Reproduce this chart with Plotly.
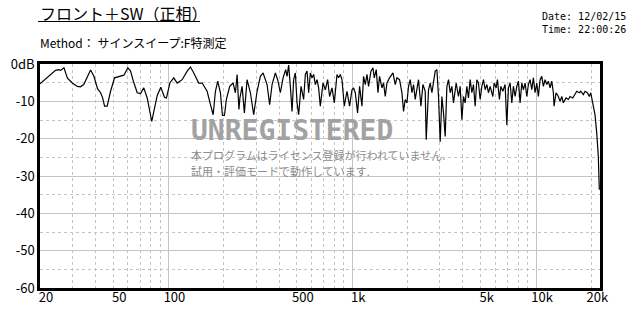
import math
import plotly.graph_objects as go

# ---------------- data ----------------
freq_hz = [
    20.0, 22.8, 24.3, 25.3, 25.9, 27.0, 28.2, 30.0, 31.9, 33.2, 34.6, 37.7, 39.3, 41.1, 42.7,
    43.8, 44.9, 46.4, 48.4, 50.9, 54.8, 57.2, 60.1, 62.2, 64.5, 67.6, 70.4, 73.4, 76.6, 81.1,
    86.8, 90.8, 95.1, 97.5, 101.9, 106.9, 111.5, 118.7, 126.4, 131.7, 137.3, 146.1, 152.5,
    162.3, 169.2, 175.0, 180.1, 185.4, 191.7, 196.6, 201.6, 206.6, 215.4, 224.7, 231.3,
    236.3, 241.7, 244.7, 251.5, 258.8, 267.7, 279.1, 290.8, 303.5, 316.2, 327.1, 343.9,
    355.2, 366.1, 381.5, 392.7, 406.2, 420.2, 434.0, 441.7, 450.6, 460.3, 470.2, 479.8,
    490.1, 500.7, 510.8, 526.3, 543.7, 555.5, 567.4, 578.9, 591.3, 604.1, 616.3, 629.5,
    643.1, 656.0, 670.1, 693.2, 713.5, 734.3, 752.8, 775.8, 798.5, 825.8, 842.5, 860.7,
    879.0, 904.7, 935.8, 966.7, 996.3, 1016.5, 1038.3, 1068.6, 1095.7, 1128.9, 1151.8,
    1176.7, 1201.9, 1226.2, 1263.5, 1295.6, 1317.0, 1350.3, 1379.5, 1407.4, 1450.2, 1479.6,
    1511.3, 1543.9, 1594.9, 1664.3, 1712.9, 1749.8, 1807.7, 1862.7, 1900.4, 1941.1, 1983.1,
    2023.2, 2066.6, 2111.3, 2153.9, 2200.0, 2247.1, 2292.6, 2362.8, 2422.6, 2493.4, 2525.0,
    2598.7, 2654.5, 2711.7, 2766.2, 2825.8, 2886.4, 2944.8, 3008.4, 3072.8, 3135.0, 3202.2,
    3271.4, 3337.6, 3409.2, 3482.2, 3552.7, 3675.0, 3782.3, 3863.7, 3946.5, 4026.4, 4112.7,
    4201.6, 4286.6, 4378.4, 4472.2, 4562.7, 4661.3, 4761.1, 4857.5, 4962.6, 5068.9, 5171.5,
    5282.2, 5396.5, 5505.7, 5623.4, 5817.0, 5911.6, 6061.9, 6161.8, 6317.4, 6430.4, 6592.3,
    6785.0, 6931.7, 7071.8, 7223.4, 7378.1, 7527.4, 7690.0, 7854.6, 8013.5, 8185.1, 8362.4,
    8531.2, 8714.2, 8902.1, 9082.3, 9277.0, 9475.6, 9667.2, 9875.5, 10088, 10292, 10513,
    10739, 10957, 11192, 11433, 11664, 11915, 12170, 12416, 12525, 12843, 13218, 13502,
    13792, 14071, 14555, 14980, 15303, 15830, 16293, 16643, 17192, 17497, 18077, 18465,
    19004, 19486, 19831, 20334, 20927, 21378, 21645, 21808, 22082,
]
level_db = [
    -5.3, -2.8, -1.7, -1.5, -1.7, -1.0, -3.8, -5.1, -6.0, -6.1, -5.5, -1.6, -3.3, -6.6, -7.7,
    -9.0, -11.3, -11.3, -7.3, -3.7, -3.3, -3.0, -1.0, -1.9, -4.7, -7.7, -7.9, -6.4, -9.1, -15.4,
    -8.5, -6.2, -8.9, -9.1, -5.0, -3.7, -5.1, -4.2, -1.9, -0.8, -2.4, -5.1, -5.1,
    -7.3, -10.9, -13.6, -7.3, -4.6, -7.7, -13.8, -13.8, -9.5, -6.0, -5.1, -7.7,
    -2.8, -12.2, -9.1, -6.0, -13.1, -4.2, -7.7, -13.6, -7.3, -3.3, -2.4, -5.5,
    -10.9, -5.5, -2.4, -4.2, -7.7, -3.7, -1.5, -3.3, -0.3, -6.0, -12.7, -4.2,
    -2.4, -10.4, -13.6, -6.0, -9.5, -2.8, -1.9, -7.7, -2.4, -3.7, -2.8, -5.5,
    -4.2, -6.4, -11.3, -5.1, -6.9, -4.2, -8.7, -6.4, -10.4, -2.8, -3.7, -2.8,
    -4.2, -11.3, -7.3, -11.3, -6.9, -6.4, -7.7, -13.1, -6.0, -11.3, -3.3,
    -5.5, -2.8, -6.0, -1.9, -1.0, -3.7, -1.5, -7.7, -3.3, -6.4, -5.1,
    -8.7, -5.1, -3.7, -2.4, -5.5, -3.7, -4.2, -7.7, -12.7, -9.5, -10.4,
    -6.0, -4.2, -7.7, -5.5, -9.5, -6.0, -4.2, -11.3, -5.5, -7.3, -20.3,
    -6.9, -5.1, -7.7, -4.2, -1.9, -1.5, -8.7, -20.8, -8.7, -13.1, -19.4,
    -6.0, -4.2, -7.7, -6.0, -10.4, -5.1, -8.7, -6.0, -14.9, -8.7, -10.4,
    -6.0, -9.1, -4.2, -7.7, -5.5, -11.3, -4.2, -5.1, -9.5, -6.0, -4.2,
    -6.9, -5.5, -7.7, -6.0, -8.7, -5.1, -6.4, -4.2, -9.5, -6.0, -7.3,
    -5.5, -16.3, -6.4, -5.1, -10.4, -6.0, -8.7, -6.0, -4.6, -10.4, -5.1,
    -6.9, -5.1, -8.7, -5.5, -4.2, -6.9, -3.7, -7.7, -5.1, -8.7, -4.2,
    -3.3, -6.0, -4.2, -5.5, -4.6, -6.4, -4.6, -7.7, -11.3, -7.7, -8.7, -10.0,
    -8.7, -10.4, -9.1, -9.5, -8.7, -9.1, -8.2, -7.3, -7.7, -7.3, -8.2, -7.3,
    -7.7, -8.7, -7.7, -10.4, -13.6, -18.5, -22.1, -24.8, -33.7,
]

y_tick_vals = [-60, -50, -40, -30, -20, -10, 0]
y_tick_text = ["-60", "-50", "-40", "-30", "-20", "-10", "0dB"]
y_minor_vals = [-55, -45, -35, -25, -15, -5]
x_label_vals = [20, 50, 100, 500, 1000, 5000, 10000, 20000]
x_label_text = ["20", "50", "100", "500", "1k", "5k", "10k", "20k"]
x_major_grid = [100, 1000, 10000]
x_minor_grid = [30, 40, 50, 60, 70, 80, 90, 200, 300, 400, 500, 600, 700, 800, 900,
                2000, 3000, 4000, 5000, 6000, 7000, 8000, 9000, 20000]
x_range_hz = [20, 22270]
y_range_db = [-60, 0]

title_text = "フロント＋SW（正相）"
method_text = "Method： サインスイープ:F特測定"
date_text = "Date: 12/02/15"
time_text = "Time: 22:00:26"
wm_text = "UNREGISTERED"
wm_line1 = "本プログラムはライセンス登録が行われていません."
wm_line2 = "試用・評価モードで動作しています."

# ---------------- layout helpers ----------------
W, H = 640, 320
L, R, T, B = 40, 40, 64, 32
def px(xp):
    return (xp - L) / (W - L - R)
def py(yp):
    return (H - B - yp) / (H - T - B)

JP = "Noto Sans CJK JP"
MONO = "DejaVu Sans Mono"
GRID = "#c4c4c4"

fig = go.Figure()
fig.add_trace(go.Scatter(x=freq_hz, y=level_db, mode="lines",
                         line=dict(color="black", width=1.2),
                         hoverinfo="skip", showlegend=False))

xr = [math.log10(v) for v in x_range_hz]
fig.update_layout(
    width=W, height=H,
    margin=dict(l=L, r=R, t=T, b=B, pad=0),
    paper_bgcolor="white", plot_bgcolor="white",
    showlegend=False,
    xaxis=dict(
        type="log", range=xr, tickvals=x_major_grid, showticklabels=False,
        ticks="", showgrid=True, gridcolor=GRID, gridwidth=1,
        showline=True, linecolor="black", linewidth=2.5, mirror=True,
        zeroline=False,
        minor=dict(tickvals=x_minor_grid, showgrid=True, gridcolor=GRID,
                   griddash="3px,3px", gridwidth=1, ticks=""),
    ),
    xaxis2=dict(
        type="log", range=xr, overlaying="x", anchor="y", side="bottom",
        tickvals=x_label_vals, ticktext=x_label_text, showgrid=False,
        ticks="", showline=False, zeroline=False, ticklabelshift=6,
        tickfont=dict(family=JP, size=13, color="black"),
    ),
    yaxis=dict(
        range=y_range_db, tickvals=y_tick_vals, ticktext=y_tick_text,
        ticks="", showgrid=True, gridcolor=GRID, gridwidth=1,
        showline=True, linecolor="black", linewidth=2.5, mirror=True,
        zeroline=False,
        tickfont=dict(family=JP, size=13, color="black"),
        minor=dict(tickvals=y_minor_vals, showgrid=True, gridcolor=GRID,
                   griddash="3px,3px", gridwidth=1, ticks=""),
    ),
)

# invisible trace so the label axis is drawn
fig.add_trace(go.Scatter(x=[freq_hz[0]], y=[level_db[0]], xaxis="x2", mode="markers",
                         marker=dict(opacity=0), hoverinfo="skip", showlegend=False))

ann = []
ann.append(dict(text=title_text, x=px(38), y=py(13), xref="paper", yref="paper",
                xanchor="left", yanchor="middle", showarrow=False,
                font=dict(family=JP, size=16, color="black")))
ann.append(dict(text=method_text, x=px(38), y=py(42.5), xref="paper", yref="paper",
                xanchor="left", yanchor="middle", showarrow=False,
                font=dict(family=JP, size=12, color="black")))
ann.append(dict(text=date_text, x=px(540), y=py(17), xref="paper", yref="paper",
                xanchor="left", yanchor="middle", showarrow=False,
                font=dict(family=MONO, size=10, color="black")))
ann.append(dict(text=time_text, x=px(540), y=py(29), xref="paper", yref="paper",
                xanchor="left", yanchor="middle", showarrow=False,
                font=dict(family=MONO, size=10, color="black")))
ann.append(dict(text=wm_text, x=px(189), y=py(130), xref="paper", yref="paper",
                xanchor="left", yanchor="middle", showarrow=False,
                font=dict(family=MONO, size=28, color="#a2a2a2", weight="bold")))
ann.append(dict(text=wm_line1, x=px(189), y=py(154.5), xref="paper", yref="paper",
                xanchor="left", yanchor="middle", showarrow=False,
                font=dict(family=JP, size=11, color="#8c8c8c")))
ann.append(dict(text=wm_line2, x=px(189), y=py(170.5), xref="paper", yref="paper",
                xanchor="left", yanchor="middle", showarrow=False,
                font=dict(family=JP, size=11, color="#8c8c8c")))
fig.update_layout(annotations=ann)

fig.add_shape(type="line", xref="paper", yref="paper",
              x0=px(38), x1=px(200), y0=py(21.5), y1=py(21.5),
              line=dict(color="black", width=1))

fig.write_html("out.html", config={"displayModeBar": False})
